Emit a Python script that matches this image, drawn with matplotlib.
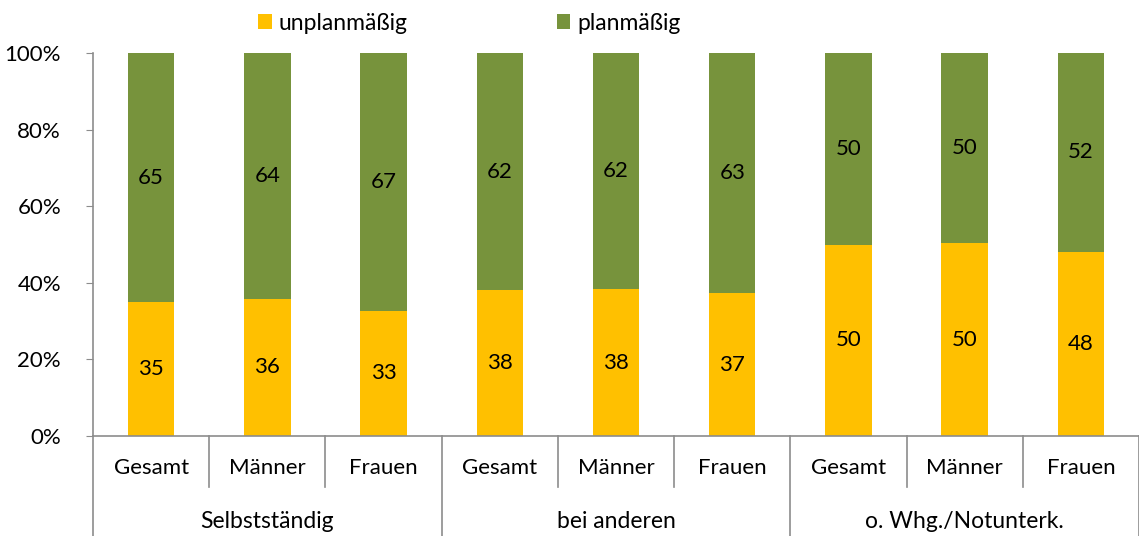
import numpy as np
import matplotlib.pyplot as plt
from matplotlib.transforms import blended_transform_factory

plt.rcParams['font.family'] = ['Lato', 'DejaVu Sans']

# data
groups = ['Selbstständig', 'bei anderen', 'o. Whg./Notunterk.']
subcats = ['Gesamt', 'Männer', 'Frauen']
unplan = [34.9, 35.9, 32.7, 38.1, 38.3, 37.3, 50.0, 50.3, 48.1]
plan_labels = [65, 64, 67, 62, 62, 63, 50, 50, 52]
unplan_labels = [35, 36, 33, 38, 38, 37, 50, 50, 48]

yellow = '#FFC000'
green = '#77933C'
grey = '#8C8C8C'

fig = plt.figure(figsize=(11.39, 5.36), dpi=100)
ax = fig.add_axes([93 / 1139, 100 / 536, (1139 - 93) / 1139, (436 - 53) / 536])

x = np.arange(len(unplan))
plan = [100 - u for u in unplan]
b1 = ax.bar(x, unplan, width=0.4, color=yellow, label='unplanmäßig')
b2 = ax.bar(x, plan, bottom=unplan, width=0.4, color=green, label='planmäßig')

for i in range(len(x)):
    ax.text(x[i], unplan[i] / 2, str(unplan_labels[i]), ha='center', va='center', fontsize=16)
    ax.text(x[i], unplan[i] + plan[i] / 2, str(plan_labels[i]), ha='center', va='center', fontsize=16)

ax.set_xlim(-0.5, len(x) - 0.5)
ax.set_ylim(0, 100)
ax.set_yticks([0, 20, 40, 60, 80, 100])
ax.set_yticklabels(['0%', '20%', '40%', '60%', '80%', '100%'], fontsize=16)
ax.tick_params(axis='y', length=5, color=grey, pad=18)
ax.set_xticks([])
for s in ['top', 'right']:
    ax.spines[s].set_visible(False)
for s in ['left', 'bottom']:
    ax.spines[s].set_color(grey)
    ax.spines[s].set_linewidth(1.2)

# two-level category axis
trans = blended_transform_factory(ax.transData, ax.transAxes)
axh = (436 - 53)
for i in range(len(x)):
    ax.text(x[i], -32 / axh, subcats[i % 3], transform=trans, ha='center', va='center', fontsize=16)
for g in range(len(groups)):
    ax.text(3 * g + 1, -86 / axh, groups[g], transform=trans, ha='center', va='center', fontsize=16.5)
for i in range(len(x) + 1):
    xb = i - 0.5
    if i % 3 == 0:
        y_end = -100 / axh
    else:
        y_end = -51 / axh
    ax.plot([xb, xb], [0, y_end], transform=trans, color=grey, lw=1.2, clip_on=False)

fig.legend(handles=[b1, b2], loc='upper center', bbox_to_anchor=(0.412, 1.015), ncol=2,
           frameon=False, fontsize=16.5, handlelength=0.6, handleheight=0.6,
           handletextpad=0.3, columnspacing=6.5)

plt.savefig('out.png', dpi=100)
